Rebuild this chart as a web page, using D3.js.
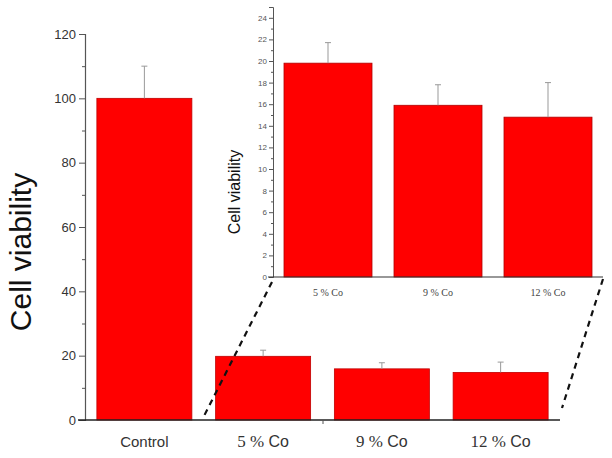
<!DOCTYPE html>
<html><head><meta charset="utf-8">
<script src="https://cdn.jsdelivr.net/npm/d3@7"></script>
<style>body{margin:0;background:#fff}svg{display:block}</style>
</head><body>
<svg id="c" width="612" height="458"></svg>
<script>
const mainCategories = ["Control", "5 % Co", "9 % Co", "12 % Co"];
const mainValues = [100, 19.8, 15.9, 14.8];
const mainErrors = [10, 1.9, 1.9, 3.2];
const insetCategories = ["5 % Co", "9 % Co", "12 % Co"];
const insetValues = [19.8, 15.9, 14.8];
const insetErrors = [1.9, 1.9, 3.2];
const mainTicks = [0, 20, 40, 60, 80, 100, 120];
const insetTicks = [0, 2, 4, 6, 8, 10, 12, 14, 16, 18, 20, 22, 24];

const SANS = "'Liberation Sans', Arial, sans-serif";
const SERIF = "'Liberation Serif', 'DejaVu Serif', serif";
const svg = d3.select("#c");
const red = "#ff0000";

// main
const x = d3.scaleBand().domain(mainCategories).range([85, 560]).paddingInner(0.2).paddingOuter(0.1);
const y = d3.scaleLinear().domain([0, 120]).range([420, 34]);

const g = svg.append("g");
g.selectAll("rect.m").data(mainValues).join("rect")
  .attr("x", (d, i) => x(mainCategories[i])).attr("width", x.bandwidth())
  .attr("y", d => y(d)).attr("height", d => y(0) - y(d))
  .attr("fill", red).attr("stroke", "#c00000").attr("stroke-width", 0.8);
g.selectAll("g.e").data(mainValues).join("g").each(function (d, i) {
  const cx = x(mainCategories[i]) + x.bandwidth() / 2;
  const s = d3.select(this);
  s.append("line").attr("x1", cx).attr("x2", cx).attr("y1", y(d)).attr("y2", y(d + mainErrors[i])).attr("stroke", "#999").attr("stroke-width", 1);
  s.append("line").attr("x1", cx - 3).attr("x2", cx + 3).attr("y1", y(d + mainErrors[i])).attr("y2", y(d + mainErrors[i])).attr("stroke", "#999").attr("stroke-width", 1);
});

const yAxis = d3.axisLeft(y).tickValues(mainTicks).tickSize(6).tickPadding(3).tickFormat(d3.format("d"));
const ya = g.append("g").attr("transform", "translate(85,0)").call(yAxis);
ya.select(".domain").attr("stroke", "#555").attr("stroke-width", 1.2);
ya.selectAll(".tick line").attr("stroke", "#555");
ya.selectAll(".tick text").attr("font-family", SANS).attr("font-size", 13).attr("fill", "#333");
const yMinor = d3.axisLeft(y).tickValues([10, 30, 50, 70, 90, 110]).tickSize(3).tickFormat("");
const ym = g.append("g").attr("transform", "translate(85,0)").call(yMinor);
ym.select(".domain").remove();
ym.selectAll(".tick line").attr("stroke", "#555");

g.append("line").attr("x1", 78).attr("x2", 560).attr("y1", y(0)).attr("y2", y(0)).attr("stroke", "#222").attr("stroke-width", 1.5);
g.append("line").attr("x1", 323).attr("x2", 323).attr("y1", y(0)).attr("y2", y(0) + 4).attr("stroke", "#555").attr("stroke-width", 1);

mainCategories.forEach((c, i) => {
  const cx = x(c) + x.bandwidth() / 2;
  const t = g.append("text").attr("x", cx).attr("y", 447).attr("text-anchor", "middle").attr("fill", "#333");
  if (i === 0) {
    t.attr("font-family", SANS).attr("font-size", 15).text(c);
  } else {
    const parts = c.split(" Co");
    t.append("tspan").attr("font-family", SERIF).attr("font-size", 17).text(parts[0] + " ");
    t.append("tspan").attr("font-family", SANS).attr("font-size", 16).text("Co");
  }
});

svg.append("text").attr("transform", "translate(31,252) rotate(-90)").attr("text-anchor", "middle")
  .attr("font-family", SANS).attr("font-size", 30).attr("fill", "#111").text("Cell viability");

// inset
const xi = d3.scaleBand().domain(insetCategories).range([273, 603]).paddingInner(0.2).paddingOuter(0.1);
const yi = d3.scaleLinear().domain([0, 25]).range([277, 7]);

svg.append("line").attr("x1", 272).attr("y1", 282).attr("x2", 203).attr("y2", 418)
  .attr("stroke", "#111").attr("stroke-width", 2.2).attr("stroke-dasharray", "6,5");
svg.append("line").attr("x1", 603).attr("y1", 279).attr("x2", 562).attr("y2", 408)
  .attr("stroke", "#111").attr("stroke-width", 2.2).attr("stroke-dasharray", "6,5");

const gi = svg.append("g");
gi.selectAll("rect").data(insetValues).join("rect")
  .attr("x", (d, i) => xi(insetCategories[i])).attr("width", xi.bandwidth())
  .attr("y", d => yi(d)).attr("height", d => yi(0) - yi(d))
  .attr("fill", red).attr("stroke", "#b00000").attr("stroke-width", 0.8);
gi.selectAll("g.e").data(insetValues).join("g").each(function (d, i) {
  const cx = xi(insetCategories[i]) + xi.bandwidth() / 2;
  const s = d3.select(this);
  s.append("line").attr("x1", cx).attr("x2", cx).attr("y1", yi(d)).attr("y2", yi(d + insetErrors[i])).attr("stroke", "#999").attr("stroke-width", 1);
  s.append("line").attr("x1", cx - 3).attr("x2", cx + 3).attr("y1", yi(d + insetErrors[i])).attr("y2", yi(d + insetErrors[i])).attr("stroke", "#999").attr("stroke-width", 1);
});
const yiAxis = d3.axisLeft(yi).tickValues(insetTicks).tickSize(4).tickPadding(2).tickFormat(d3.format("d"));
const yia = gi.append("g").attr("transform", "translate(273,0)").call(yiAxis);
yia.select(".domain").attr("stroke", "#555").attr("stroke-width", 1);
yia.selectAll(".tick line").attr("stroke", "#555");
yia.selectAll(".tick text").attr("font-family", SANS).attr("font-size", 8).attr("fill", "#555");
const yiMinor = d3.axisLeft(yi).tickValues([1, 3, 5, 7, 9, 11, 13, 15, 17, 19, 21, 23, 25]).tickSize(2).tickFormat("");
const yim = gi.append("g").attr("transform", "translate(273,0)").call(yiMinor);
yim.select(".domain").remove();
yim.selectAll(".tick line").attr("stroke", "#555");
gi.append("line").attr("x1", 268).attr("x2", 603).attr("y1", yi(0)).attr("y2", yi(0)).attr("stroke", "#333").attr("stroke-width", 1.2);

insetCategories.forEach(c => {
  const cx = xi(c) + xi.bandwidth() / 2;
  gi.append("text").attr("x", cx).attr("y", 296).attr("text-anchor", "middle").attr("fill", "#444")
    .attr("font-family", SERIF).attr("font-size", 10).text(c);
});
svg.append("text").attr("transform", "translate(240,192) rotate(-90)").attr("text-anchor", "middle")
  .attr("font-family", SANS).attr("font-size", 16).attr("fill", "#111").text("Cell viability");
</script>
</body></html>
